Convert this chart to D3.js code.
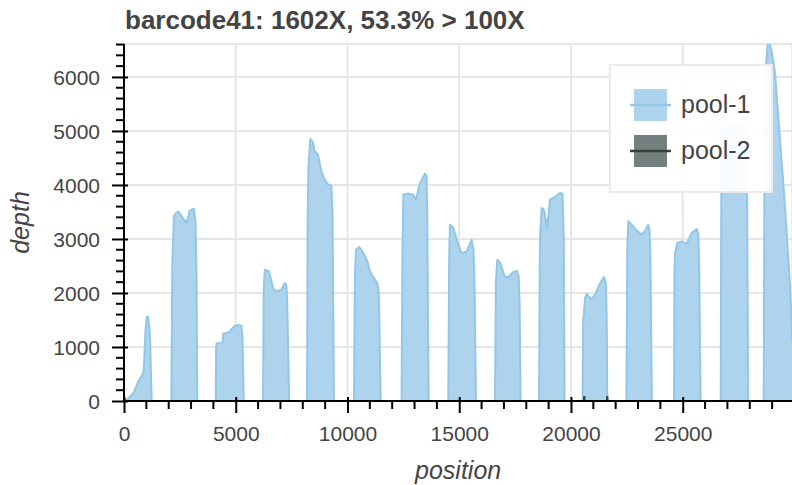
<!DOCTYPE html>
<html>
<head>
<meta charset="utf-8">
<script src="https://cdn.jsdelivr.net/npm/d3@7/dist/d3.min.js"></script>
<style>
  html, body { margin: 0; padding: 0; background: #fff; }
  svg { display: block; font-family: "Liberation Sans", Arial, Helvetica, sans-serif; }
</style>
</head>
<body>
<svg id="chart" width="792" height="485"></svg>
<script>
// ---- data ----
const titleText = "barcode41: 1602X, 53.3% > 100X";
const seriesNames = ["pool-1", "pool-2"];
const xTicks = [0, 5000, 10000, 15000, 20000, 25000];
const yTicks = [0, 1000, 2000, 3000, 4000, 5000, 6000];
const xMax = 29903;
const yMax = 6610;

// pool-1 depth profile: [position, depth]
const pool1 = [
  [0,0],[200,50],[416,143],[650,370],[864,514],[900,700],[960,1300],[1020,1560],[1080,1560],[1130,1400],[1170,1100],[1200,600],[1240,0],
  [2120,0],[2160,2500],[2232,3420],[2330,3480],[2426,3510],[2550,3440],[2649,3380],[2798,3300],[2880,3420],[2946,3530],[3125,3560],[3200,3300],[3240,2500],[3280,0],
  [4105,0],[4120,900],[4140,1070],[4360,1075],[4420,1090],[4440,1250],[4520,1256],[4732,1280],[4800,1330],[4955,1391],[5104,1410],[5200,1400],[5253,1390],[5300,1200],[5360,0],
  [6220,0],[6250,2000],[6300,2430],[6490,2400],[6580,2250],[6670,2090],[6820,2030],[7040,2060],[7190,2183],[7260,2150],[7300,1900],[7390,0],
  [8190,0],[8220,3500],[8250,4300],[8335,4855],[8455,4790],[8530,4625],[8680,4560],[8830,4254],[8980,4100],[9130,4007],[9280,3990],[9330,3500],[9395,0],
  [10290,0],[10330,2300],[10380,2800],[10530,2850],[10710,2740],[10890,2585],[11005,2400],[11185,2276],[11335,2183],[11400,2000],[11425,1500],[11485,0],
  [12420,0],[12460,2800],[12500,3822],[12720,3840],[12945,3820],[13065,3729],[13245,4039],[13468,4211],[13540,4180],[13570,3500],[13630,0],
  [14510,0],[14550,2700],[14587,3265],[14735,3205],[14960,2894],[15108,2740],[15332,2770],[15556,2987],[15640,2800],[15690,2000],[15750,0],
  [16600,0],[16640,2200],[16704,2616],[16823,2570],[17047,2295],[17196,2295],[17420,2387],[17570,2410],[17660,2300],[17700,1800],[17748,0],
  [18570,0],[18610,3000],[18688,3575],[18792,3540],[18941,3204],[19060,3729],[19210,3760],[19358,3803],[19508,3850],[19620,3840],[19680,3000],[19710,0],
  [20520,0],[20545,1500],[20582,1627],[20630,1900],[20700,1985],[20924,1880],[21073,1970],[21267,2152],[21477,2295],[21560,2200],[21600,1500],[21625,0],
  [22480,0],[22520,2800],[22566,3327],[22715,3265],[22908,3173],[23160,3080],[23310,3150],[23460,3265],[23520,3150],[23560,2500],[23620,0],
  [24610,0],[24630,2400],[24653,2740],[24757,2925],[24950,2955],[25175,2915],[25400,3111],[25620,3185],[25700,3100],[25740,2400],[25800,0],
  [26700,0],[26730,4500],[26800,5000],[27000,5090],[27300,5050],[27600,5090],[27850,5050],[27880,4000],[27930,0],
  [28625,0],[28650,3500],[28680,5600],[28740,6300],[28800,6610],[28900,6610],[28990,6450],[29128,6085],[29240,5460],[29351,4842],[29465,4220],[29575,3605],[29670,2980],[29767,2369],[29850,1700],[29903,1100]
];

// pool-2 depth profile: essentially zero
const pool2 = [
  [0,0],[20580,0],[20595,90],[20610,0],[21608,0],[21624,90],[21640,0],[29903,0]
];

// ---- layout ----
const svg = d3.select("#chart");
const pLeft = 124, pRight = 792.3, pTop = 44, pBottom = 401;
const x = d3.scaleLinear().domain([0, xMax]).range([pLeft, pRight]);
const y = d3.scaleLinear().domain([0, yMax]).range([pBottom, pTop]);

const col1Fill = "#aed3ec", col1Line = "#93c6e8";
const col2Fill = "#73807d", col2Line = "#34423f";
const textCol = "#444";

// clip
svg.append("defs").append("clipPath").attr("id", "plotclip")
  .append("rect").attr("x", pLeft).attr("y", pTop).attr("width", pRight - pLeft).attr("height", pBottom - pTop);

// outline
svg.append("rect").attr("x", pLeft).attr("y", pTop).attr("width", pRight - pLeft).attr("height", pBottom - pTop)
  .attr("fill", "none").attr("stroke", "#e5e5e5").attr("stroke-width", 2);

// grid
const grid = svg.append("g");
grid.selectAll("line.gx").data(xTicks).enter().append("line")
  .attr("x1", d => x(d)).attr("x2", d => x(d)).attr("y1", pTop).attr("y2", pBottom)
  .attr("stroke", "#e5e5e5").attr("stroke-width", 2);
grid.selectAll("line.gy").data(yTicks).enter().append("line")
  .attr("x1", pLeft).attr("x2", pRight).attr("y1", d => y(d)).attr("y2", d => y(d))
  .attr("stroke", "#e5e5e5").attr("stroke-width", 2);

// areas
const area = d3.area().x(d => x(d[0])).y0(y(0)).y1(d => y(d[1]));
const line = d3.line().x(d => x(d[0])).y(d => y(d[1]));
const plot = svg.append("g").attr("clip-path", "url(#plotclip)");
plot.append("path").datum(pool1).attr("d", area).attr("fill", col1Fill);
plot.append("path").datum(pool1).attr("d", line).attr("fill", "none")
  .attr("stroke", col1Line).attr("stroke-width", 2).attr("stroke-linejoin", "round");
plot.append("path").datum(pool2).attr("d", area).attr("fill", col2Fill);
plot.append("path").datum(pool2).attr("d", line).attr("fill", "none")
  .attr("stroke", col2Line).attr("stroke-width", 2);

// axes
const xMinor = d3.range(0, xMax, 1000).filter(v => v % 5000 !== 0);
const yMinor = d3.range(0, yMax, 200).filter(v => v % 1000 !== 0);

const gx = svg.append("g").attr("transform", `translate(0,${pBottom})`);
gx.call(d3.axisBottom(x).tickValues(xTicks).tickFormat(d3.format("d")).tickSize(12).tickSizeOuter(0));
gx.select(".domain").attr("stroke", "#000").attr("stroke-width", 2).attr("d", `M${pLeft},0H${pRight}`);
gx.selectAll(".tick line").attr("y1", -4).attr("y2", 12).attr("stroke", "#000").attr("stroke-width", 2);
gx.selectAll(".tick text").attr("y", 40).attr("dy", 0).attr("fill", textCol)
  .style("font-size", "21px").style("font-family", "'Liberation Sans', Arial, sans-serif");
gx.selectAll("line.minor").data(xMinor).enter().append("line").attr("class", "minor")
  .attr("x1", d => x(d)).attr("x2", d => x(d)).attr("y1", 0).attr("y2", 8)
  .attr("stroke", "#000").attr("stroke-width", 2);

const gy = svg.append("g").attr("transform", `translate(${pLeft},0)`);
gy.call(d3.axisLeft(y).tickValues(yTicks).tickFormat(d3.format("d")).tickSize(12).tickSizeOuter(0));
gy.select(".domain").attr("stroke", "#000").attr("stroke-width", 2).attr("d", `M0,${pTop}V${pBottom}`);
gy.selectAll(".tick line").attr("x1", 4).attr("x2", -12).attr("stroke", "#000").attr("stroke-width", 2);
gy.selectAll(".tick text").attr("x", -24).attr("dy", "0.35em").attr("fill", textCol)
  .style("font-size", "21px").style("font-family", "'Liberation Sans', Arial, sans-serif");
gy.selectAll("line.minor").data(yMinor).enter().append("line").attr("class", "minor")
  .attr("x1", 0).attr("x2", -8).attr("y1", d => y(d)).attr("y2", d => y(d))
  .attr("stroke", "#000").attr("stroke-width", 2);

// title
svg.append("text").attr("x", 125).attr("y", 29).attr("fill", textCol)
  .style("font-size", "26px").style("font-weight", "bold").text(titleText);

// axis labels
svg.append("text").attr("x", (pLeft + pRight) / 2).attr("y", 479).attr("text-anchor", "middle")
  .attr("fill", textCol).style("font-size", "25px").style("font-style", "italic").text("position");
svg.append("text").attr("transform", `translate(29,${(pTop + pBottom) / 2}) rotate(-90)`)
  .attr("text-anchor", "middle").attr("fill", textCol)
  .style("font-size", "25px").style("font-style", "italic").text("depth");

// legend
const lg = svg.append("g");
lg.append("rect").attr("x", 610).attr("y", 65).attr("width", 162).attr("height", 127)
  .attr("fill", "#fff").attr("fill-opacity", 0.93).attr("stroke", "#ebebeb").attr("stroke-width", 2);
const items = [
  {name: seriesNames[0], fill: col1Fill, stroke: col1Line},
  {name: seriesNames[1], fill: col2Fill, stroke: col2Line}
];
items.forEach((it, i) => {
  const cy = 105 + i * 46;
  lg.append("rect").attr("x", 634).attr("y", cy - 16).attr("width", 33).attr("height", 32).attr("fill", it.fill);
  lg.append("line").attr("x1", 630).attr("x2", 671).attr("y1", cy).attr("y2", cy)
    .attr("stroke", it.stroke).attr("stroke-width", 2.5);
  lg.append("text").attr("x", 681).attr("y", cy + 8).attr("fill", textCol)
    .style("font-size", "25px").text(it.name);
});
</script>
</body>
</html>
